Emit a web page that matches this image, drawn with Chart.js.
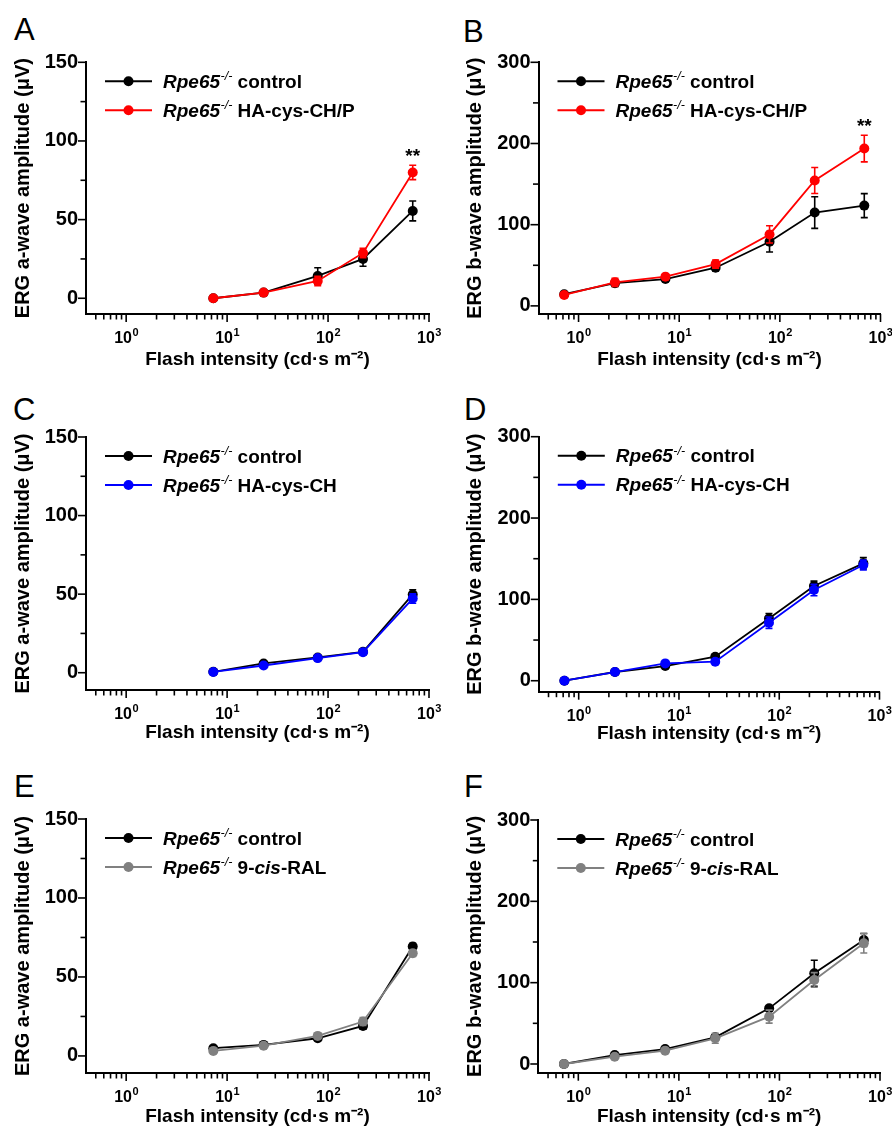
<!DOCTYPE html>
<html>
<head>
<meta charset="utf-8">
<script src="https://cdn.jsdelivr.net/npm/chart.js@4.4.1/dist/chart.umd.min.js"></script>
<style>
  body { margin: 0; background: #fff; width: 892px; height: 1130px; position: relative; overflow: hidden; }
  canvas { position: absolute; }
  .letter { position: absolute; font: 31px "Liberation Sans", Arial, sans-serif; line-height: 1; color: #000; }
</style>
</head>
<body>
<script>
const FONT = '"Liberation Sans", Arial, Helvetica, sans-serif';

// flash intensities (cd·s m-2)
const intensityA = [7.3, 23, 79, 222, 690];                 // a-wave panels
const intensityB = [0.72, 2.3, 7.3, 23, 79, 222, 690];      // b-wave panels

// panel A: a-wave, control vs HA-cys-CH/P
const aCtrl = [0, 3.6, 14.2, 25, 55.5];
const aCtrlErr = [0.8, 1.5, 5.2, 4.6, 6.3];
const aCHP = [0, 3.6, 11, 28.8, 80];
const aCHPErr = [0.6, 1.3, 3, 3, 4.6];
const aSig = ['', '', '', '', '**'];

// panel B: b-wave, control vs HA-cys-CH/P
const bCtrl = [14.4, 27.9, 33, 47, 79, 115, 123.5];
const bCtrlErr = [3, 4, 3, 4, 12.7, 19.5, 14.8];
const bCHP = [13.5, 29, 36, 51.5, 88, 154.5, 193.8];
const bCHPErr = [3, 5, 3, 5, 10.6, 16, 16.4];
const bSig = ['', '', '', '', '', '', '**'];

// panel C: a-wave, control vs HA-cys-CH
const cCtrl = [0.6, 5.9, 9.7, 13.3, 49.8];
const cCtrlErr = [0.5, 1, 1, 1.2, 3];
const cCH = [0.5, 4.6, 9.3, 13.1, 47.2];
const cCHErr = [0.5, 1, 1, 1, 3];

// panel D: b-wave, control vs HA-cys-CH
const dCtrl = [0, 10.7, 18, 29.5, 76.6, 116.4, 144.3];
const dCtrlErr = [1, 2, 2, 2, 6, 6, 7];
const dCH = [0, 10.7, 21.3, 23.4, 71.3, 111.5, 142.2];
const dCHErr = [1, 2, 2, 2, 7, 7, 6];

// panel E: a-wave, control vs 9-cis-RAL
const eCtrl = [4.9, 7, 11.2, 19, 69.3];
const eCtrlErr = [1, 1, 1, 2, 2];
const eCis = [3.2, 6.5, 12.7, 21.8, 65];
const eCisErr = [1, 1, 1.5, 2.5, 2];

// panel F: b-wave, control vs 9-cis-RAL
const fCtrl = [0, 11, 18.4, 32.8, 68.4, 111.5, 152.5];
const fCtrlErr = [1, 2, 2, 3, 3, 16, 8];
const fCis = [0, 9, 16.4, 31.6, 58.2, 103.3, 148.4];
const fCisErr = [1, 2, 2, 6, 8, 9, 12];

const groupLabels = ['control', 'HA-cys-CH/P', 'HA-cys-CH', '9-cis-RAL'];

// axes
const xMajorTicks = [1, 10, 100, 1000];
const xMajorLabels = ['10\u2070', '10\u00b9', '10\u00b2', '10\u00b3'];
const xMajorExp = ['0', '1', '2', '3'];
const yMajorA = [0, 50, 100, 150];
const yMajorB = [0, 100, 200, 300];
const xTitle = 'Flash intensity (cd\u00b7s m\u207b\u00b2)';
const yTitleA = 'ERG a-wave amplitude (\u03bcV)';
const yTitleB = 'ERG b-wave amplitude (\u03bcV)';

// minor ticks on the log axis: 2..9 of each decade
const xTickValues = [];
[0.1, 1, 10, 100].forEach(d => {
  for (let k = 1; k <= 9; k++) {
    const v = +(k * d).toPrecision(3);
    if (v > 0.4 && v <= 1000) xTickValues.push(v);
  }
});
xTickValues.push(1000);

const BLACK = '#000000', RED = '#ff0000', BLUE = '#0000ff', GRAY = '#808080';

const panels = [
  { letter: 'A', lx: 14, ly: 14, x: 0, y: 0, w: 446, h: 375, area: [86, 62.3, 429, 314], titleCY: 360, yTitleCX: 23,
    yMin: -10, yMajor: yMajorA, yTitle: yTitleA, xs: intensityA, sig: aSig,
    series: [[groupLabels[0], aCtrl, aCtrlErr, BLACK], [groupLabels[1], aCHP, aCHPErr, RED]] },
  { letter: 'B', lx: 463, ly: 16, x: 446, y: 0, w: 446, h: 375, area: [92.5, 62.3, 434.5, 314], titleCY: 360, yTitleCX: 29.5,
    yMin: -10, yMajor: yMajorB, yTitle: yTitleB, xs: intensityB, sig: bSig,
    series: [[groupLabels[0], bCtrl, bCtrlErr, BLACK], [groupLabels[1], bCHP, bCHPErr, RED]] },
  { letter: 'C', lx: 13, ly: 394, x: 0, y: 375, w: 446, h: 380, area: [86, 62, 429, 315], titleCY: 358, yTitleCX: 23,
    yMin: -11, yMajor: yMajorA, yTitle: yTitleA, xs: intensityA, sig: null,
    series: [[groupLabels[0], cCtrl, cCtrlErr, BLACK], [groupLabels[2], cCH, cCHErr, BLUE]] },
  { letter: 'D', lx: 464, ly: 394, x: 446, y: 375, w: 446, h: 380, area: [92.8, 61.7, 433.5, 316.7], titleCY: 359, yTitleCX: 29.5,
    yMin: -13.5, yMajor: yMajorB, yTitle: yTitleB, xs: intensityB, sig: null,
    series: [[groupLabels[0], dCtrl, dCtrlErr, BLACK], [groupLabels[2], dCH, dCHErr, BLUE]] },
  { letter: 'E', lx: 14, ly: 771, x: 0, y: 755, w: 446, h: 375, area: [86, 64, 429, 318], titleCY: 362, yTitleCX: 23,
    yMin: -10.8, yMajor: yMajorA, yTitle: yTitleA, xs: intensityA, sig: null,
    series: [[groupLabels[0], eCtrl, eCtrlErr, BLACK], [groupLabels[3], eCis, eCisErr, GRAY]] },
  { letter: 'F', lx: 464, ly: 771, x: 446, y: 755, w: 446, h: 375, area: [92.3, 65, 434, 317.7], titleCY: 362, yTitleCX: 29.5,
    yMin: -10.7, yMajor: yMajorB, yTitle: yTitleB, xs: intensityB, sig: null,
    series: [[groupLabels[0], fCtrl, fCtrlErr, BLACK], [groupLabels[3], fCis, fCisErr, GRAY]] },
];

// error bars, hand-drawn ticks, power-of-ten labels, legend and significance marks
const ergPlugin = {
  id: 'erg',
  afterDatasetDraw(chart, args) {
    const ds = chart.data.datasets[args.index];
    const xs = chart.scales.x, ys = chart.scales.y, ctx = chart.ctx;
    ctx.save();
    ctx.strokeStyle = ds.borderColor;
    ctx.lineWidth = 1.6;
    ds.data.forEach((pt, j) => {
      const e = ds.err[j];
      if (!e) return;
      const px = xs.getPixelForValue(pt.x);
      const t = ys.getPixelForValue(pt.y + e), b = ys.getPixelForValue(pt.y - e);
      ctx.beginPath();
      ctx.moveTo(px, t); ctx.lineTo(px, b);
      ctx.moveTo(px - 3.5, t); ctx.lineTo(px + 3.5, t);
      ctx.moveTo(px - 3.5, b); ctx.lineTo(px + 3.5, b);
      ctx.stroke();
    });
    ctx.restore();
  },
  afterDraw(chart, args, opts) {
    const {ctx, chartArea: area} = chart;
    const xs = chart.scales.x, ys = chart.scales.y;
    ctx.save();
    ctx.strokeStyle = '#000';
    ctx.lineWidth = 1.6;
    // ticks, major longer than minor
    xs.ticks.forEach(t => {
      const len = t.label ? 6 : 3.5;
      const p = xs.getPixelForValue(t.value);
      ctx.beginPath(); ctx.moveTo(p, area.bottom); ctx.lineTo(p, area.bottom + 2 + len); ctx.stroke();
    });
    ys.ticks.forEach(t => {
      const len = t.label ? 6 : 3.5;
      const p = ys.getPixelForValue(t.value);
      ctx.beginPath(); ctx.moveTo(area.left, p); ctx.lineTo(area.left - 2 - len, p); ctx.stroke();
    });

    // 10^n labels with a raised exponent
    ctx.fillStyle = '#000';
    ctx.textAlign = 'left';
    ctx.textBaseline = 'alphabetic';
    xMajorTicks.forEach((m, k) => {
      const px = xs.getPixelForValue(m);
      ctx.font = `bold 16px ${FONT}`;
      const w10 = ctx.measureText('10').width;
      ctx.font = `bold 11px ${FONT}`;
      const we = ctx.measureText(xMajorExp[k]).width;
      const x0 = px - (w10 + we) / 2;
      const base = area.bottom + 29;
      ctx.font = `bold 16px ${FONT}`;
      ctx.fillText('10', x0, base);
      ctx.font = `bold 11px ${FONT}`;
      ctx.fillText(xMajorExp[k], x0 + w10 + 0.5, base - 7);
    });

    // legend
    chart.data.datasets.forEach((ds, i) => {
      const y = area.top + 19 + i * 29;
      const x0 = area.left + 19, x1 = area.left + 66;
      ctx.strokeStyle = ds.borderColor;
      ctx.fillStyle = ds.borderColor;
      ctx.lineWidth = 2;
      ctx.beginPath(); ctx.moveTo(x0, y); ctx.lineTo(x1, y); ctx.stroke();
      ctx.beginPath(); ctx.arc((x0 + x1) / 2, y, 5, 0, Math.PI * 2); ctx.fill();

      ctx.fillStyle = '#000';
      const base = y + 6.6;
      let tx = area.left + 77;
      ctx.font = `italic bold 19px ${FONT}`;
      ctx.fillText('Rpe65', tx, base);
      tx += ctx.measureText('Rpe65').width + 0.5;
      ctx.font = `italic 12.5px ${FONT}`;
      ctx.fillText('-/-', tx, base - 7.5);
      tx += ctx.measureText('-/-').width;
      ctx.font = `bold 19px ${FONT}`;
      tx += ctx.measureText(' ').width;
      ds.label.split(/(cis)/).forEach(part => {
        if (!part) return;
        ctx.font = `${part === 'cis' ? 'italic ' : ''}bold 19px ${FONT}`;
        ctx.fillText(part, tx, base);
        tx += ctx.measureText(part).width;
      });
    });

    // significance marks above the treated series
    if (opts.sig) {
      const ds = chart.data.datasets[1];
      ctx.fillStyle = '#000';
      ctx.font = `bold 19px ${FONT}`;
      ctx.textAlign = 'center';
      opts.sig.forEach((s, j) => {
        if (!s) return;
        const pt = ds.data[j];
        const px = xs.getPixelForValue(pt.x);
        const py = ys.getPixelForValue(pt.y + ds.err[j]);
        ctx.fillText(s, px, py - 3);
      });
    }
    ctx.restore();
  }
};

function makePanel(p) {
  const letter = document.createElement('div');
  letter.className = 'letter';
  letter.style.left = p.lx + 'px';
  letter.style.top = p.ly + 'px';
  letter.textContent = p.letter;
  document.body.appendChild(letter);

  const cv = document.createElement('canvas');
  cv.width = p.w; cv.height = p.h;
  cv.style.left = p.x + 'px'; cv.style.top = p.y + 'px';
  cv.style.width = p.w + 'px'; cv.style.height = p.h + 'px';
  document.body.appendChild(cv);

  const [aL, aT, aR, aB] = p.area;
  const yStep = p.yMajor[1] - p.yMajor[0];
  const yMax = p.yMajor[p.yMajor.length - 1];
  const yTicks = [];
  for (let v = 0; v <= yMax; v += yStep / 2) yTicks.push(v);

  new Chart(cv, {
    type: 'line',
    data: {
      datasets: p.series.map(([label, values, err, color], i) => ({
        label,
        data: p.xs.map((x, j) => ({ x, y: values[j] })),
        err,
        borderColor: color,
        backgroundColor: color,
        pointBackgroundColor: color,
        pointBorderWidth: 0,
        pointRadius: 5,
        pointHoverRadius: 5,
        borderWidth: 1.8,
        tension: 0,
        clip: false,
        order: p.series.length - 1 - i,
      })),
    },
    options: {
      responsive: false,
      animation: false,
      events: [],
      layout: { padding: { left: 0, top: aT, right: p.w - aR, bottom: 0 } },
      plugins: {
        legend: { display: false },
        tooltip: { enabled: false },
        erg: { sig: p.sig },
      },
      scales: {
        x: {
          type: 'logarithmic',
          min: 0.4,
          max: 1000,
          afterBuildTicks: s => { s.ticks = xTickValues.map(v => ({ value: v })); },
          afterFit: s => { s.height = p.h - aB; s.paddingLeft = 0; s.paddingRight = 0; },
          grid: { drawOnChartArea: false, drawTicks: true, tickLength: 6, tickColor: 'rgba(0,0,0,0)' },
          border: { display: true, color: '#000', width: 2 },
          ticks: {
            autoSkip: false,
            maxRotation: 0,
            minRotation: 0,
            padding: 6,
            color: 'rgba(0,0,0,0)',   // drawn by the plugin with a raised exponent
            font: { family: FONT, size: 16, weight: 'bold' },
            callback: v => {
              const k = xMajorTicks.findIndex(m => Math.abs(m - v) < m * 1e-6);
              return k >= 0 ? xMajorLabels[k] : '';
            },
          },
          title: {
            display: true,
            text: xTitle,
            color: '#000',
            font: { family: FONT, size: 19, weight: 'bold' },
            padding: { top: 0, bottom: p.h - 11.4 - p.titleCY },
          },
        },
        y: {
          type: 'linear',
          min: p.yMin,
          max: yMax,
          afterBuildTicks: s => { s.ticks = yTicks.map(v => ({ value: v })); },
          afterFit: s => { s.width = aL; s.paddingTop = 0; s.paddingBottom = 0; },
          grid: { drawOnChartArea: false, drawTicks: true, tickLength: 6, tickColor: 'rgba(0,0,0,0)' },
          border: { display: true, color: '#000', width: 2 },
          ticks: {
            autoSkip: false,
            padding: 2,
            color: '#000',
            font: { family: FONT, size: 20, weight: 'bold' },
            callback: v => (p.yMajor.includes(v) ? String(v) : ''),
          },
          title: {
            display: true,
            text: p.yTitle,
            color: '#000',
            font: { family: FONT, size: 20, weight: 'bold' },
            padding: { top: p.yTitleCX - 12, bottom: 0 },
          },
        },
      },
    },
    plugins: [ergPlugin],
  });
}

panels.forEach(makePanel);
</script>
</body>
</html>
